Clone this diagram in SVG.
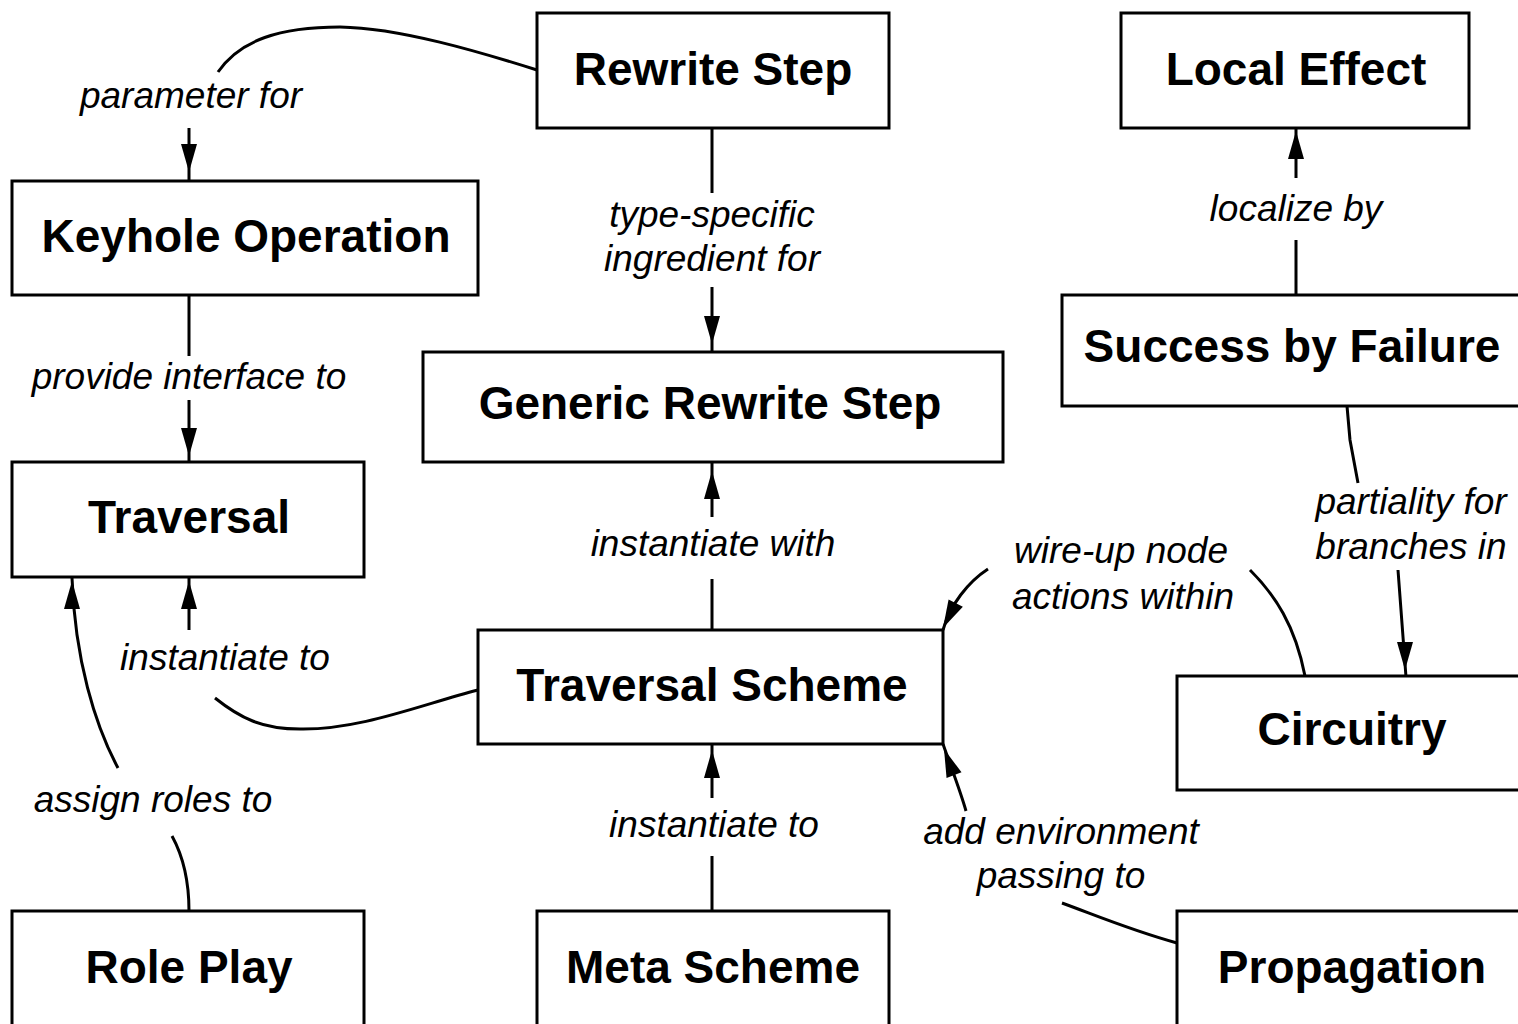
<svg xmlns="http://www.w3.org/2000/svg" xmlns:xlink="http://www.w3.org/1999/xlink" width="1518" height="1024" viewBox="0 0 1518 1024">
<style>
.box{fill:#fff;stroke:#000;stroke-width:3}
.nt{font-family:"Liberation Sans",Arial,sans-serif;font-weight:bold;font-size:46px;text-anchor:middle;fill:#000}
.lb{font-family:"Liberation Sans",Arial,sans-serif;font-style:italic;font-size:37px;text-anchor:middle;fill:#000}
.ln{fill:none;stroke:#000;stroke-width:3}
</style>
<defs>
<path id="ah" d="M0 0 L-8 -28 L8 -28 Z" fill="#000"/>
</defs>
<rect width="1518" height="1024" fill="#fff"/>
<g id="connectors">
<path class="ln" d="M537 70 C480 52 400 28 340 27 C280 27 240 40 218 72 M189 128 L189 181"/>
<use xlink:href="#ah" transform="translate(189 172)"/>
<text class="lb" x="191" y="108">parameter for</text>

<path class="ln" d="M712 128 L712 193 M712 287 L712 352"/>
<use xlink:href="#ah" transform="translate(712 344)"/>
<text class="lb" x="712" y="227">type-specific</text>
<text class="lb" x="712" y="271">ingredient for</text>

<path class="ln" d="M189 295 L189 356 M189 400 L189 462"/>
<use xlink:href="#ah" transform="translate(189 456)"/>
<text class="lb" x="189" y="389">provide interface to</text>

<path class="ln" d="M1296 128 L1296 178 M1296 240 L1296 295"/>
<use xlink:href="#ah" transform="translate(1296 131) rotate(180)"/>
<text class="lb" x="1296" y="221">localize by</text>

<path class="ln" d="M712 462 L712 517 M712 579 L712 630"/>
<use xlink:href="#ah" transform="translate(712 471) rotate(180)"/>
<text class="lb" x="713" y="556">instantiate with</text>

<path class="ln" d="M478 690 C420 705 360 730 300 729 C262 729 240 718 215 698 M189 577 L189 630"/>
<use xlink:href="#ah" transform="translate(189 581) rotate(180)"/>
<text class="lb" x="225" y="670">instantiate to</text>

<path class="ln" d="M189 911 C189 880 183 856 172 836 M118 768 C95 725 75 660 72 578"/>
<use xlink:href="#ah" transform="translate(72 581) rotate(180)"/>
<text class="lb" x="153" y="812">assign roles to</text>

<path class="ln" d="M712 911 L712 856 M712 798 L712 744"/>
<use xlink:href="#ah" transform="translate(712 750) rotate(180)"/>
<text class="lb" x="714" y="837">instantiate to</text>

<path class="ln" d="M1305 676 C1295 625 1275 595 1250 570 M988 569 C968 582 950 605 943 630"/>
<use xlink:href="#ah" transform="translate(943 628) rotate(27)"/>
<text class="lb" x="1121" y="563">wire-up node</text>
<text class="lb" x="1123" y="609">actions within</text>

<path class="ln" d="M1347 406 L1350 440 L1358 483 M1398 570 L1406 677"/>
<use xlink:href="#ah" transform="translate(1405 670)"/>
<text class="lb" x="1411" y="514">partiality for</text>
<text class="lb" x="1411" y="559">branches in</text>

<path class="ln" d="M1177 943 C1130 930 1095 915 1062 903 M966 811 C960 790 952 770 943 744"/>
<use xlink:href="#ah" transform="translate(944 749) rotate(159)"/>
<text class="lb" x="1061" y="844">add environment</text>
<text class="lb" x="1061" y="888">passing to</text>
</g>
<g id="rewrite-step"><rect class="box" x="537" y="13" width="352" height="115"/><text class="nt" x="713" y="85">Rewrite Step</text></g>
<g id="local-effect"><rect class="box" x="1121" y="13" width="348" height="115"/><text class="nt" x="1296" y="85">Local Effect</text></g>
<g id="keyhole-operation"><rect class="box" x="12" y="181" width="466" height="114"/><text class="nt" x="246" y="252">Keyhole Operation</text></g>
<g id="generic-rewrite-step"><rect class="box" x="423" y="352" width="580" height="110"/><text class="nt" x="710" y="419">Generic Rewrite Step</text></g>
<g id="success-by-failure"><rect class="box" x="1062" y="295" width="462" height="111"/><text class="nt" x="1292" y="362">Success by Failure</text></g>
<g id="traversal"><rect class="box" x="12" y="462" width="352" height="115"/><text class="nt" x="189" y="533">Traversal</text></g>
<g id="traversal-scheme"><rect class="box" x="478" y="630" width="465" height="114"/><text class="nt" x="712" y="701">Traversal Scheme</text></g>
<g id="circuitry"><rect class="box" x="1177" y="676" width="350" height="114"/><text class="nt" x="1352" y="745">Circuitry</text></g>
<g id="role-play"><rect class="box" x="12" y="911" width="352" height="130"/><text class="nt" x="189" y="983">Role Play</text></g>
<g id="meta-scheme"><rect class="box" x="537" y="911" width="352" height="130"/><text class="nt" x="713" y="983">Meta Scheme</text></g>
<g id="propagation"><rect class="box" x="1177" y="911" width="350" height="130"/><text class="nt" x="1352" y="983">Propagation</text></g>
</svg>
